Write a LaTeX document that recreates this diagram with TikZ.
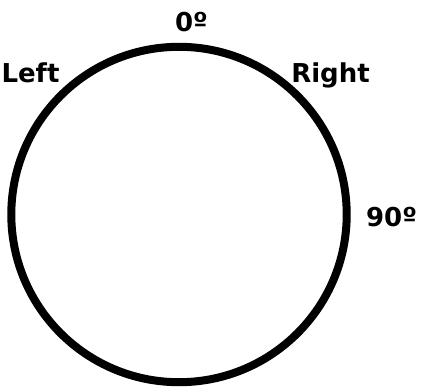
\documentclass[tikz,border=0pt]{standalone}
\usepackage{fontspec}
\setmainfont{DejaVu Sans}

\tikzset{
  dirlabel/.style={anchor=base, inner sep=0pt, font=\fontsize{26}{30}\selectfont\bfseries}
}

\begin{document}
\begin{tikzpicture}[x=1pt, y=-1pt]

  \useasboundingbox (0, 0) rectangle (422, 390);

  % -- Dial --
  \draw[line width=8pt] (179, 214.5) circle (167.7);

  % -- Labels --
  \node[dirlabel] (zero) at (191.5, 32) {0º};
  \node[dirlabel] (left) at (30.5, 83) {Left};
  \node[dirlabel] (right) at (330.5, 83) {Right};
  \node[dirlabel] (ninety) at (391.5, 226) {90º};

\end{tikzpicture}
\end{document}
